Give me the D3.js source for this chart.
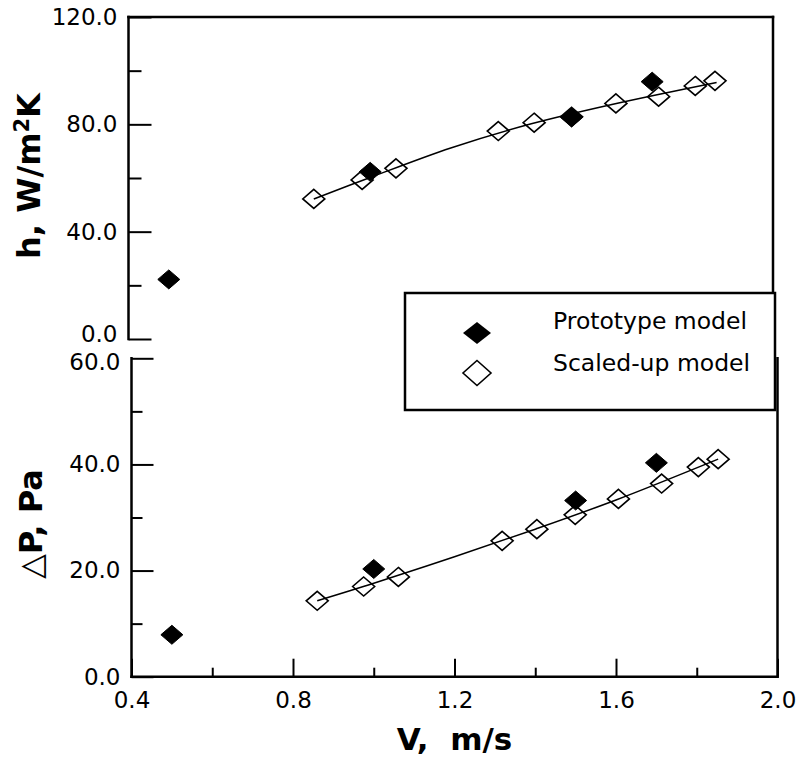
<!DOCTYPE html>
<html>
<head>
<meta charset="utf-8">
<script src="https://cdn.jsdelivr.net/npm/d3@7"></script>
<style>
  body { margin: 0; background: #fff; }
  svg { display: block; }
</style>
</head>
<body>
<div id="chart"></div>
<script>
    // Data
    // top panel: heat transfer coefficient h (W/m2K)
    protoV_h = [0.5, 1.0, 1.5, 1.7]
    protoH = [22.2, 62.3, 82.6, 95.9]
    scaledV_h = [0.86, 0.98, 1.064, 1.318, 1.407, 1.5, 1.61, 1.716, 1.807, 1.856]
    scaledH = [52.2, 59.3, 63.6, 77.5, 80.6, 82.8, 87.8, 90.3, 94.3, 96.2]
    fitV_h = [0.86, 1.0, 1.2, 1.4, 1.6, 1.86]
    fitH = [52.2, 60.2, 71.2, 80.2, 87.4, 95.6]

    // bottom panel: pressure drop dP (Pa)
    protoV_p = [0.5, 1.0, 1.5, 1.7]
    protoP = [7.9, 20.3, 33.2, 40.3]
    scaledV_p = [0.86, 0.975, 1.061, 1.318, 1.404, 1.499, 1.606, 1.713, 1.804, 1.853]
    scaledP = [14.3, 17.0, 18.8, 25.6, 27.8, 30.5, 33.5, 36.4, 39.5, 41.0]
    fitV_p = [0.86, 1.0, 1.2, 1.4, 1.6, 1.853]
    fitP = [14.3, 17.6, 22.6, 27.8, 33.3, 41.0]

    xMajor = [0.4, 0.8, 1.2, 1.6, 2.0]
    xMinor = [0.6, 1.0, 1.4, 1.8]
    hMajor = [0, 40, 80, 120]
    hMinor = [20, 60, 100]
    pMajor = [0, 20, 40, 60]
    pMinor = [10, 30, 50]

    legendLabels = ["Prototype model", "Scaled-up model"]

    canvas = ({width: 799, height: 762})
    font = "DejaVu Sans"

    // Scales (the two panels are offset by a few pixels in the original)
    x_top = d3.scaleLinear().domain([0.4, 2.0]).range([128.5, 773])
    y_top = d3.scaleLinear().domain([0, 120]).range([339, 17])
    x_bot = d3.scaleLinear().domain([0.4, 2.0]).range([131.5, 777.5])
    y_bot = d3.scaleLinear().domain([0, 60]).range([676.7, 358.3])

    var svg = d3.select("#chart").append("svg")
        .attr("width", canvas.width)
        .attr("height", canvas.height)
        .attr("viewBox", [0, 0, canvas.width, canvas.height])

    function diamond(rx, ry) {
        return `M0,${-ry}L${rx},0L0,${ry}L${-rx},0Z`
    }

    function frameLine(x1, y1, x2, y2) {
        svg.append("line")
            .attr("x1", x1).attr("y1", y1)
            .attr("x2", x2).attr("y2", y2)
            .attr("stroke", "#000")
            .attr("stroke-width", 2.5)
            .attr("stroke-linecap", "square")
    }

    function styleAxis(g) {
        g.select(".domain").remove()
        g.selectAll(".tick line").attr("stroke-width", 2)
        g.selectAll(".tick text")
            .attr("font-family", font)
            .attr("font-size", 23)
            .attr("fill", "#000")
    }

    // ---- top panel frame (top, left, right) ----
    frameLine(x_top(0.4), y_top(120), x_top(2.0), y_top(120))
    frameLine(x_top(0.4), y_top(120), x_top(0.4), y_top(0))
    frameLine(x_top(2.0), y_top(120), x_top(2.0), y_top(0))

    svg.append("g")
        .attr("transform", `translate(${x_top(0.4)},0)`)
        .call(d3.axisLeft(y_top).tickValues(hMajor).tickSize(-23).tickPadding(11).tickFormat(d3.format(".1f")))
        .call(styleAxis)
        .call(g => g.selectAll(".tick text").filter(d => d === 0).attr("dy", "0.1em"))
    svg.append("g")
        .attr("transform", `translate(${x_top(0.4)},0)`)
        .call(d3.axisLeft(y_top).tickValues(hMinor).tickSize(-13).tickFormat(""))
        .call(styleAxis)

    // ---- bottom panel frame (left, bottom, right) ----
    frameLine(x_bot(0.4), y_bot(60), x_bot(0.4), y_bot(0))
    frameLine(x_bot(0.4), y_bot(0), x_bot(2.0), y_bot(0))
    frameLine(x_bot(2.0), y_bot(60), x_bot(2.0), y_bot(0))

    svg.append("g")
        .attr("transform", `translate(${x_bot(0.4)},0)`)
        .call(d3.axisLeft(y_bot).tickValues(pMajor).tickSize(-22).tickPadding(11).tickFormat(d3.format(".1f")))
        .call(styleAxis)
        .call(g => g.selectAll(".tick text").filter(d => d === 60).attr("dy", "0.5em"))
    svg.append("g")
        .attr("transform", `translate(${x_bot(0.4)},0)`)
        .call(d3.axisLeft(y_bot).tickValues(pMinor).tickSize(-11).tickFormat(""))
        .call(styleAxis)

    svg.append("g")
        .attr("transform", `translate(0,${y_bot(0)})`)
        .call(d3.axisBottom(x_bot).tickValues(xMajor).tickSize(-18).tickPadding(15).tickFormat(d3.format(".1f")))
        .call(styleAxis)
    svg.append("g")
        .attr("transform", `translate(0,${y_bot(0)})`)
        .call(d3.axisBottom(x_bot).tickValues(xMinor).tickSize(-9).tickFormat(""))
        .call(styleAxis)

    // ---- data ----
    function drawPanel(x, y, fitV, fitY, scV, scY, prV, prY) {
        svg.append("g").selectAll("path")
            .data(d3.zip(scV, scY))
            .join("path")
            .attr("transform", d => `translate(${x(d[0])},${y(d[1])})`)
            .attr("d", diamond(11, 9.5))
            .attr("fill", "#fff")
            .attr("stroke", "#000")
            .attr("stroke-width", 1.6)

        var line = d3.line()
            .x(d => x(d[0]))
            .y(d => y(d[1]))
            .curve(d3.curveCatmullRom)
        svg.append("path")
            .attr("fill", "none")
            .attr("stroke", "#000")
            .attr("stroke-width", 1.5)
            .attr("d", line(d3.zip(fitV, fitY)))

        svg.append("g").selectAll("path")
            .data(d3.zip(prV, prY))
            .join("path")
            .attr("transform", d => `translate(${x(d[0])},${y(d[1])})`)
            .attr("d", diamond(11, 9.5))
            .attr("fill", "#000")
            .attr("stroke", "#000")
            .attr("stroke-width", 1)
    }

    drawPanel(x_top, y_top, fitV_h, fitH, scaledV_h, scaledH, protoV_h, protoH)
    drawPanel(x_bot, y_bot, fitV_p, fitP, scaledV_p, scaledP, protoV_p, protoP)

    // ---- legend ----
    var lg = svg.append("g")
    lg.append("rect")
        .attr("x", 405).attr("y", 293)
        .attr("width", 370).attr("height", 117)
        .attr("fill", "#fff")
        .attr("stroke", "#000")
        .attr("stroke-width", 2.5)
    lg.append("path")
        .attr("transform", "translate(477,333)")
        .attr("d", diamond(14, 11))
        .attr("fill", "#000")
    lg.append("path")
        .attr("transform", "translate(477,373)")
        .attr("d", diamond(14, 12.5))
        .attr("fill", "#fff")
        .attr("stroke", "#000")
        .attr("stroke-width", 1.6)
    lg.selectAll("text")
        .data(legendLabels)
        .join("text")
        .attr("x", 553)
        .attr("y", (d, i) => 329 + i * 42)
        .attr("font-family", font)
        .attr("font-size", 23.5)
        .text(d => d)

    // ---- axis titles ----
    svg.append("text")
        .attr("x", 454.5).attr("y", 750)
        .attr("text-anchor", "middle")
        .attr("font-family", font)
        .attr("font-weight", "bold")
        .attr("font-size", 31)
        .style("white-space", "pre")
        .text("V,  m/s")

    var t1 = svg.append("text")
        .attr("transform", "translate(40,176) rotate(-90)")
        .attr("text-anchor", "middle")
        .attr("font-family", font)
        .attr("font-weight", "bold")
        .attr("font-size", 32)
    t1.append("tspan").text("h, W/m")
    t1.append("tspan").attr("font-size", 21).attr("dy", -11).text("2")
    t1.append("tspan").attr("dy", 11).text("K")

    var t2 = svg.append("text")
        .attr("transform", "translate(42,524) rotate(-90)")
        .attr("text-anchor", "middle")
        .attr("font-family", font)
        .attr("font-size", 32)
    t2.append("tspan").text("\u25B3")
    t2.append("tspan").attr("font-weight", "bold").text("P, Pa")
</script>
</body>
</html>
